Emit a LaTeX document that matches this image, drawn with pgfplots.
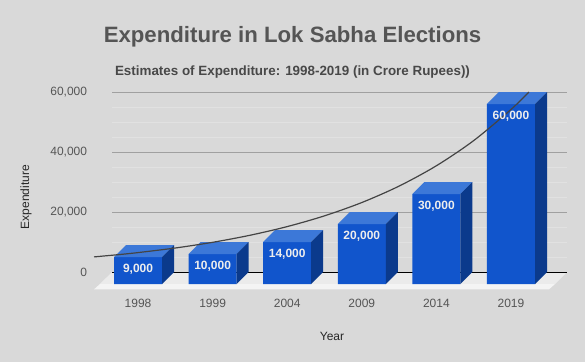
\documentclass[border=0pt]{standalone}
\usepackage{pgfplots}
\usepackage{pgfplotstable}
\pgfplotsset{compat=1.18}
\usepackage{fontspec}
\setmainfont{Liberation Sans}
\definecolor{bg}{HTML}{D9D9D9}
\definecolor{frontc}{HTML}{1155CC}
\definecolor{topc}{HTML}{3C78D8}
\definecolor{sidec}{HTML}{0B3A8C}
\definecolor{gridmaj}{HTML}{A0A0A0}
\definecolor{gridmin}{HTML}{E1E1E1}
\definecolor{floortop}{HTML}{EBEBEB}
\definecolor{floorfront}{HTML}{F4F4F4}
\definecolor{txt}{HTML}{555555}
\definecolor{trend}{HTML}{444444}

\pgfplotstableread{
x y
0 9000
1 10000
2 14000
3 20000
4 30000
5 60000
}\datatable

\begin{document}
\begin{tikzpicture}
\fill[bg] (0pt,0pt) rectangle (585pt,362pt);
\node[font=\fontsize{22.2}{26}\selectfont\bfseries, text=txt] at (292.5pt,325pt) {Expenditure in Lok Sabha Elections};
\node[font=\fontsize{13.4}{15}\selectfont\bfseries, text=txt!85!black] at (292.5pt,290pt) {Estimates of Expenditure: 1998-2019 (in Crore Rupees))};
\node[font=\fontsize{12}{14}\selectfont, text=black!85] at (332pt,26pt) {Year};
\node[font=\fontsize{12}{14}\selectfont, text=black!85, rotate=90] at (26pt,165pt) {Expenditure};
\begin{axis}[
  at={(112pt,72pt)}, anchor=south west,
  scale only axis, width=455pt, height=198pt,
  xmin=-0.349, xmax=5.751, ymin=-2000, ymax=64000,
  clip=false,
  scaled y ticks=false,
  axis line style={draw=none},
  tick style={draw=none},
  xtick={0,1,2,3,4,5},
  xticklabels={1998,1999,2004,2009,2014,2019},
  ytick={4000,24000,44000,64000},
  yticklabels={0,{20,000},{40,000},{60,000}},
  minor ytick={9000,14000,19000,29000,34000,39000,49000,54000,59000},
  ymajorgrids, yminorgrids,
  major grid style={gridmaj, line width=0.9pt},
  minor grid style={gridmin, line width=0.8pt},
  ticklabel style={font=\fontsize{12}{14}\selectfont, text=txt},
  xticklabel style={anchor=center, yshift=-13pt},
  yticklabel style={anchor=east, inner sep=0pt, xshift=-24.7pt},
  /pgf/number format/assume math mode=true,
]
% floor
\addplot[fill=floortop, draw=none] coordinates {(-0.349,4000) (5.751,4000) (5.590,0) (-0.510,0)} -- cycle;
\addplot[fill=floorfront, draw=none] coordinates {(-0.510,0) (5.590,0) (5.511,-1767) (-0.589,-1767)} -- cycle;
\addplot[black, line width=0.9pt] coordinates {(-0.349,4000) (5.751,4000)};
% front faces
\addplot[ybar, bar shift=0pt, bar width=0.644, fill=frontc, draw=none,
  nodes near coords={\pgfmathprintnumber[fixed,precision=0,1000 sep={,}]{\pgfplotspointmeta}},
  every node near coord/.append style={font=\fontsize{12}{14}\selectfont\bfseries, text=white!93!black, anchor=center, yshift=-12.5pt}
] table[x=x,y=y] {\datatable};
% top faces
\addplot[fill=topc, draw=none] coordinates {(-0.322,9000) (0.322,9000) (0.483,13000) (-0.161,13000)} -- cycle;
\addplot[fill=topc, draw=none] coordinates {(0.678,10000) (1.322,10000) (1.483,14000) (0.839,14000)} -- cycle;
\addplot[fill=topc, draw=none] coordinates {(1.678,14000) (2.322,14000) (2.483,18000) (1.839,18000)} -- cycle;
\addplot[fill=topc, draw=none] coordinates {(2.678,20000) (3.322,20000) (3.483,24000) (2.839,24000)} -- cycle;
\addplot[fill=topc, draw=none] coordinates {(3.678,30000) (4.322,30000) (4.483,34000) (3.839,34000)} -- cycle;
\addplot[fill=topc, draw=none] coordinates {(4.678,60000) (5.322,60000) (5.483,64000) (4.839,64000)} -- cycle;
% side faces
\addplot[fill=sidec, draw=none] coordinates {(0.322,0) (0.483,4000) (0.483,13000) (0.322,9000)} -- cycle;
\addplot[fill=sidec, draw=none] coordinates {(1.322,0) (1.483,4000) (1.483,14000) (1.322,10000)} -- cycle;
\addplot[fill=sidec, draw=none] coordinates {(2.322,0) (2.483,4000) (2.483,18000) (2.322,14000)} -- cycle;
\addplot[fill=sidec, draw=none] coordinates {(3.322,0) (3.483,4000) (3.483,24000) (3.322,20000)} -- cycle;
\addplot[fill=sidec, draw=none] coordinates {(4.322,0) (4.483,4000) (4.483,34000) (4.322,30000)} -- cycle;
\addplot[fill=sidec, draw=none] coordinates {(5.322,0) (5.483,4000) (5.483,64000) (5.322,60000)} -- cycle;
% exponential trendline
\addplot[trend, line width=1.2pt, smooth] coordinates {
(-0.59,9035) (-0.25,9818) (0,10470) (0.5,12002) (1,13897) (1.5,16240)
(2,19137) (2.5,22722) (3,27155) (3.5,32638) (4,39416) (4.5,47805)
(5,58173) (5.24,64000)};
\end{axis}
\end{tikzpicture}
\end{document}
